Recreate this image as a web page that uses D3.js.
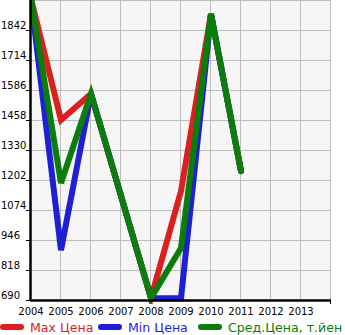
<!DOCTYPE html>
<html><head><meta charset="utf-8">
<script src="https://cdn.jsdelivr.net/npm/d3@7"></script>
<style>body{margin:0;background:#fff}svg{display:block;font-family:"DejaVu Sans",sans-serif}</style>
</head><body>
<svg id="c" width="345" height="335"></svg>
<script>
const years = [2004,2005,2006,2007,2008,2009,2010,2011];
const tickYears = [2004,2005,2006,2007,2008,2009,2010,2011,2012,2013];
const yTicks = [690,818,946,1074,1202,1330,1458,1586,1714,1842];
const maxPrice = [1975,1458,1570,1134,698,1155,1910,1240];
const minPrice = [1975,903,1570,1134,698,697,1910,1240];
const avgPrice = [1975,1189,1570,1134,698,912,1910,1240];
const seriesNames = ["Max Цена","Min Цена","Сред.Цена, т.йен"];
const seriesColors = ["#dd1f1f","#1f1fd6","#0b7d0b"];

const svg = d3.select("#c");
const L=31, R=331, T=0, B=300;
const x = d3.scaleLinear().domain([2004,2014]).range([L,R]);
const y = d3.scaleLinear().domain([690,1970]).range([B,T]);

svg.append("rect").attr("x",L).attr("y",T).attr("width",R-L).attr("height",B-T).attr("fill","#f6f6f6");
const gridY = [...yTicks, 1970];
svg.append("g").selectAll("line").data(gridY).join("line")
  .attr("x1",L).attr("x2",R).attr("y1",d=>y(d)+0.5).attr("y2",d=>y(d)+0.5)
  .attr("stroke","#bdbdbd").attr("stroke-width",1);
svg.append("g").selectAll("line").data([...tickYears,2014]).join("line")
  .attr("y1",T).attr("y2",B).attr("x1",d=>x(d)-0.5).attr("x2",d=>x(d)-0.5)
  .attr("stroke","#bdbdbd").attr("stroke-width",1);

svg.append("defs").append("clipPath").attr("id","clip").append("rect")
  .attr("x",L).attr("y",T).attr("width",R-L).attr("height",B-T+4);
const line = d3.line().x((d,i)=>x(years[i])).y(d=>y(d));
const g = svg.append("g").attr("clip-path","url(#clip)");
[maxPrice,minPrice,avgPrice].forEach((s,k)=>{
  g.append("path").attr("d",line(s)).attr("fill","none")
   .attr("stroke",seriesColors[k]).attr("stroke-width",6)
   .attr("stroke-linejoin","miter").attr("stroke-linecap","round");
});

// axes
svg.append("line").attr("x1",L-0.5).attr("x2",L-0.5).attr("y1",T).attr("y2",B+1).attr("stroke","#000").attr("stroke-width",2.5);
svg.append("line").attr("x1",L-1).attr("x2",R).attr("y1",B+0.5).attr("y2",B+0.5).attr("stroke","#000").attr("stroke-width",2.5);
svg.append("line").attr("x1",R-0.5).attr("x2",R-0.5).attr("y1",B).attr("y2",B+4).attr("stroke","#000").attr("stroke-width",1);
svg.append("g").selectAll("line").data(yTicks).join("line")
  .attr("x1",L-5).attr("x2",L).attr("y1",d=>y(d)+0.5).attr("y2",d=>y(d)+0.5)
  .attr("stroke","#000").attr("stroke-width",1);
svg.append("g").selectAll("text").data(yTicks).join("text")
  .attr("x",1).attr("y",d=>y(d)-1).attr("font-size",10).attr("fill","#000").text(d=>d);
svg.append("g").selectAll("text").data(tickYears).join("text")
  .attr("x",d=>x(d)).attr("y",315).attr("text-anchor","middle").attr("font-size",10).attr("fill","#000").text(d=>d);

// legend
const lx = [0,98,198];
seriesNames.forEach((n,k)=>{
  svg.append("line").attr("x1",lx[k]+3).attr("x2",lx[k]+21).attr("y1",327).attr("y2",327)
    .attr("stroke",seriesColors[k]).attr("stroke-width",6).attr("stroke-linecap","round");
  svg.append("text").attr("x",lx[k]+30).attr("y",331.5).attr("font-size",12.6).attr("fill",seriesColors[k]).text(n);
});
</script>
</body></html>
